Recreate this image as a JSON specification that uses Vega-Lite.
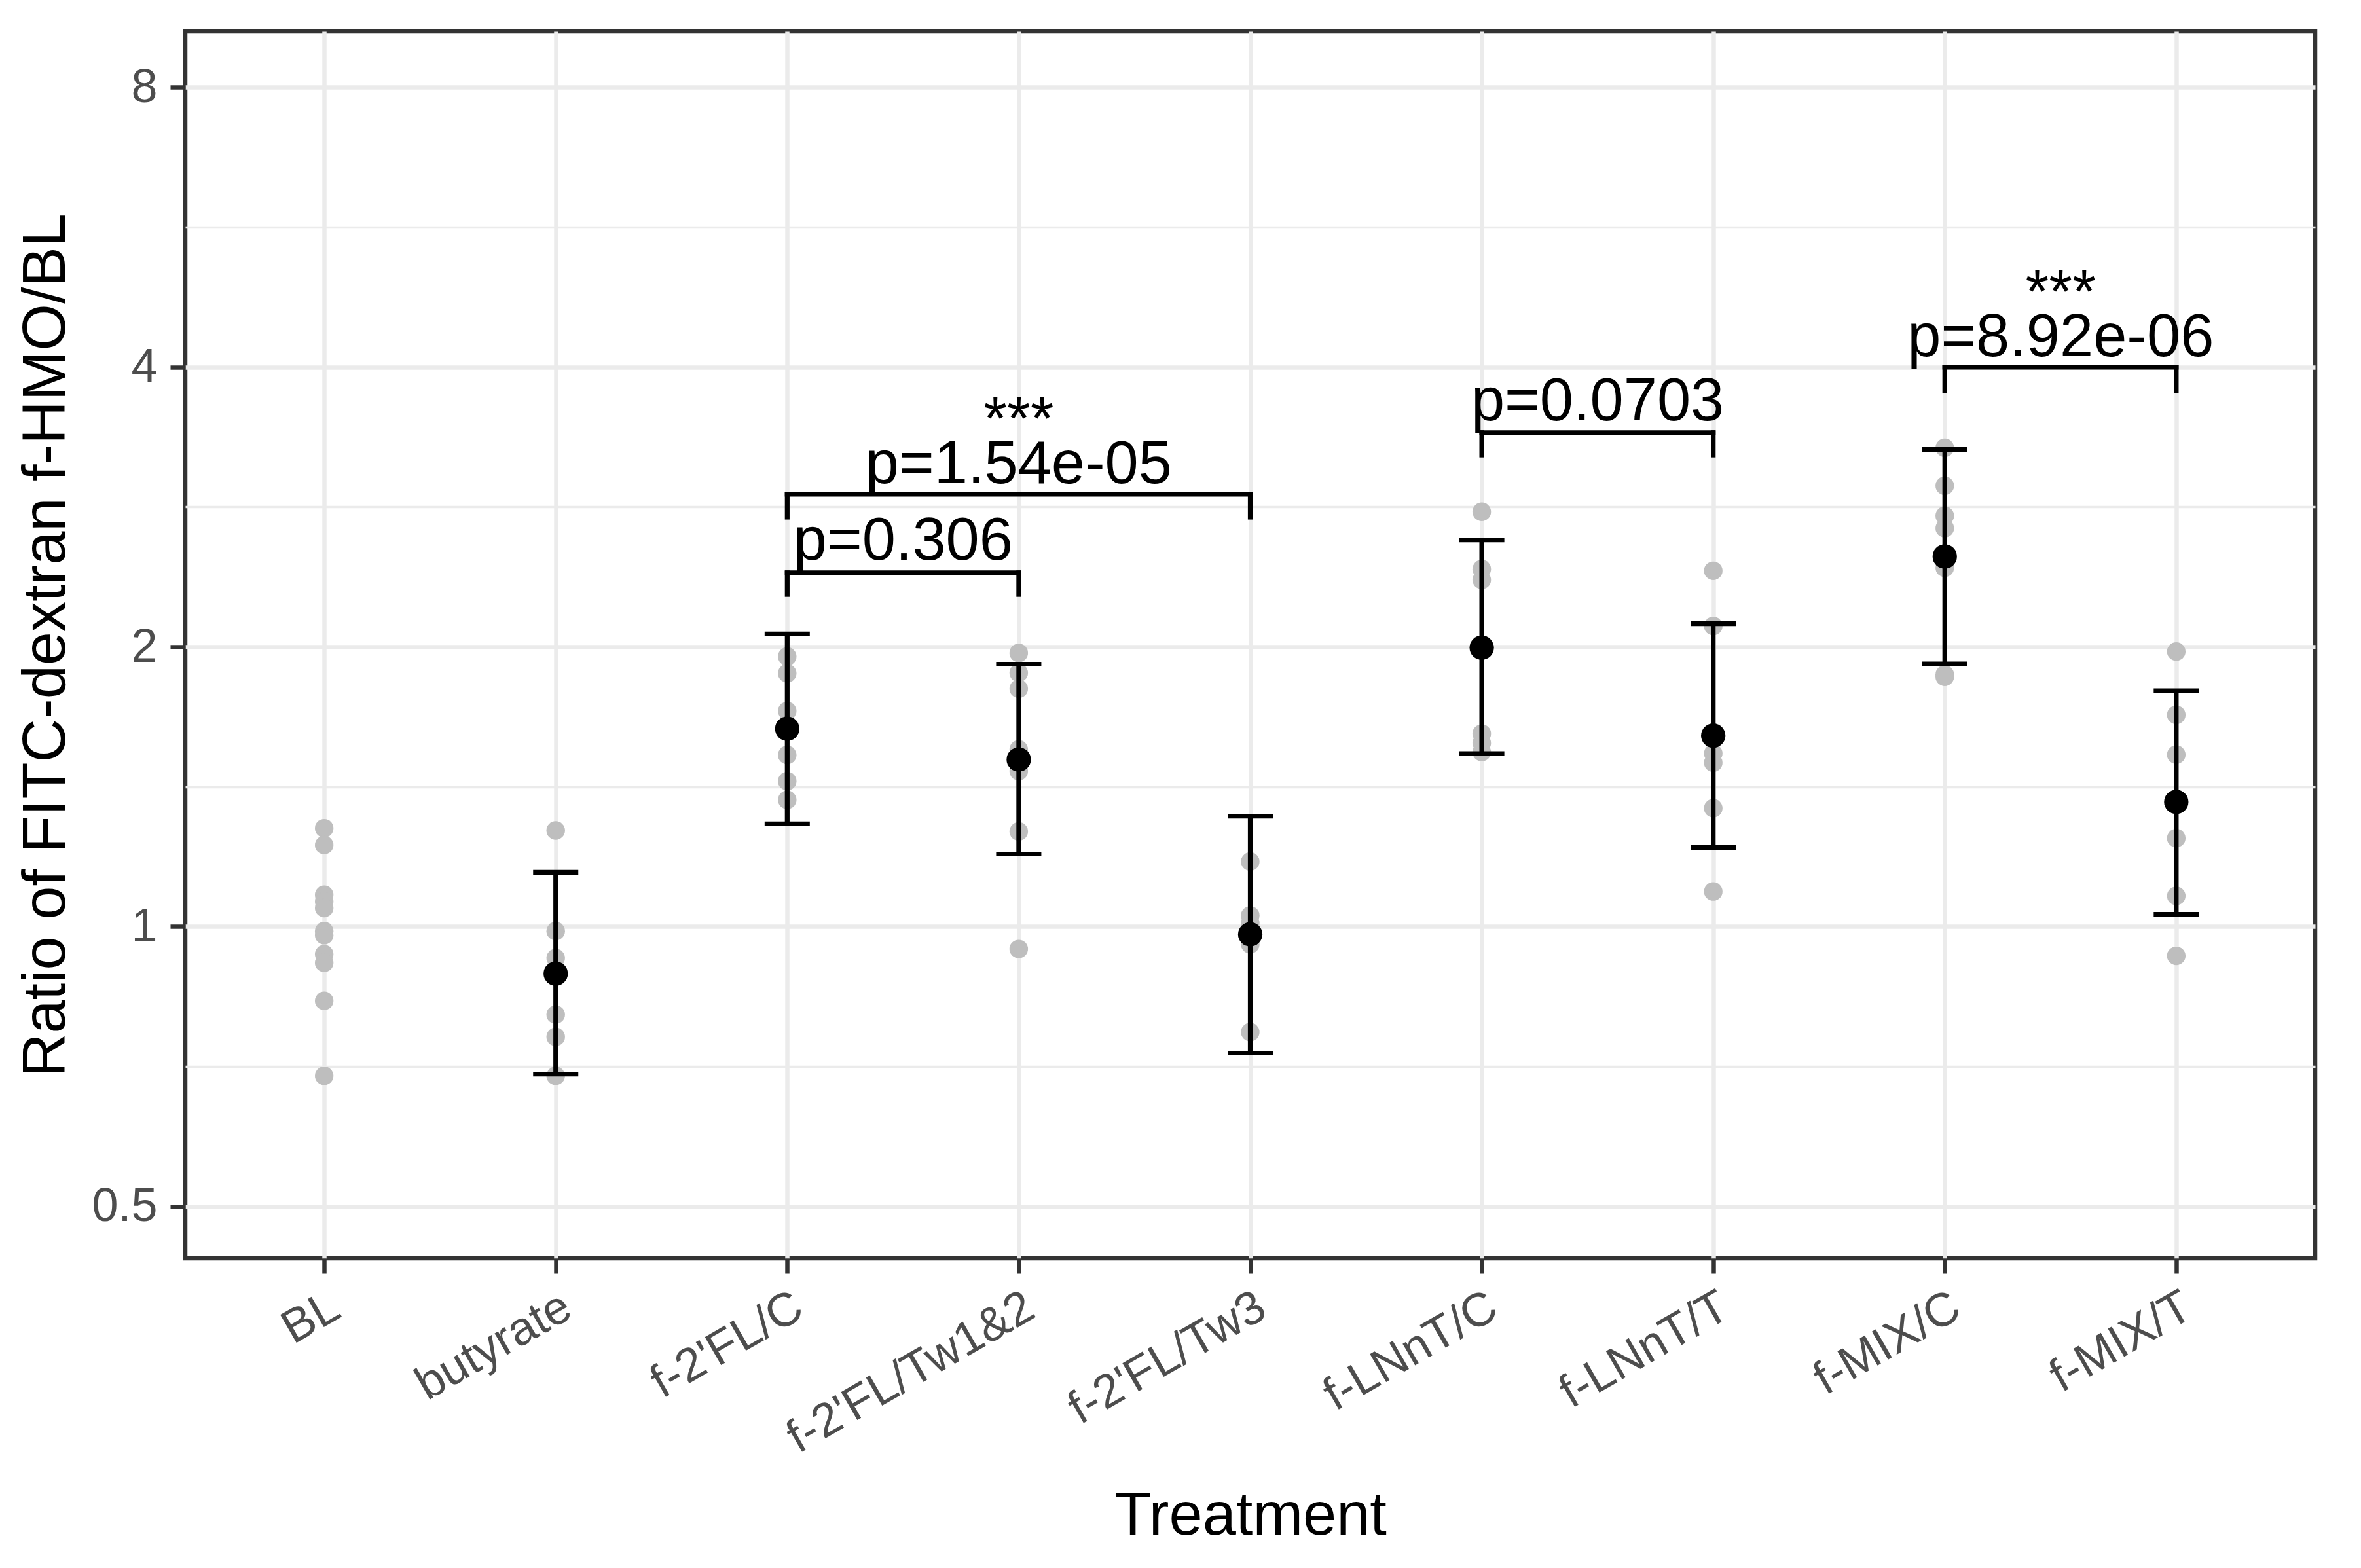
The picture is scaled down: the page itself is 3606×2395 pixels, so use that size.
{
  "$schema": "https://vega.github.io/schema/vega-lite/v6.json",
  "width": 3253,
  "height": 1874,
  "autosize": {"type": "none"},
  "padding": {"left": 283, "top": 48, "right": 70, "bottom": 473},
  "background": "white",
  "config": {
    "font": "Liberation Sans",
    "view": {"stroke": "#333333", "strokeWidth": 6.5},
    "axis": {
      "labelFont": "Liberation Sans",
      "titleFont": "Liberation Sans",
      "labelColor": "#4D4D4D",
      "titleColor": "#000000",
      "labelFontSize": 72,
      "titleFontSize": 92,
      "titleFontWeight": "normal",
      "tickColor": "#333333",
      "tickSize": 23,
      "tickWidth": 6.5,
      "domain": false,
      "gridColor": "#EBEBEB",
      "labelOverlap": false,
      "labelLimit": 0
    }
  },
  "datasets": {
    "points": [
      {"Treatment": "BL", "ratio": 1.276}, {"Treatment": "BL", "ratio": 1.224}, {"Treatment": "BL", "ratio": 1.082},
      {"Treatment": "BL", "ratio": 1.064}, {"Treatment": "BL", "ratio": 1.047}, {"Treatment": "BL", "ratio": 0.989},
      {"Treatment": "BL", "ratio": 0.979}, {"Treatment": "BL", "ratio": 0.934}, {"Treatment": "BL", "ratio": 0.914},
      {"Treatment": "BL", "ratio": 0.832}, {"Treatment": "BL", "ratio": 0.691},
      {"Treatment": "butyrate", "ratio": 1.269}, {"Treatment": "butyrate", "ratio": 0.989}, {"Treatment": "butyrate", "ratio": 0.925},
      {"Treatment": "butyrate", "ratio": 0.804}, {"Treatment": "butyrate", "ratio": 0.761}, {"Treatment": "butyrate", "ratio": 0.691},
      {"Treatment": "f-2'FL/C", "ratio": 1.953}, {"Treatment": "f-2'FL/C", "ratio": 1.873}, {"Treatment": "f-2'FL/C", "ratio": 1.706},
      {"Treatment": "f-2'FL/C", "ratio": 1.634}, {"Treatment": "f-2'FL/C", "ratio": 1.530}, {"Treatment": "f-2'FL/C", "ratio": 1.434},
      {"Treatment": "f-2'FL/C", "ratio": 1.369},
      {"Treatment": "f-2'FL/Tw1&2", "ratio": 1.970}, {"Treatment": "f-2'FL/Tw1&2", "ratio": 1.875}, {"Treatment": "f-2'FL/Tw1&2", "ratio": 1.803},
      {"Treatment": "f-2'FL/Tw1&2", "ratio": 1.551}, {"Treatment": "f-2'FL/Tw1&2", "ratio": 1.470}, {"Treatment": "f-2'FL/Tw1&2", "ratio": 1.266},
      {"Treatment": "f-2'FL/Tw1&2", "ratio": 0.946},
      {"Treatment": "f-2'FL/Tw3", "ratio": 1.175}, {"Treatment": "f-2'FL/Tw3", "ratio": 1.028}, {"Treatment": "f-2'FL/Tw3", "ratio": 1.009},
      {"Treatment": "f-2'FL/Tw3", "ratio": 0.957}, {"Treatment": "f-2'FL/Tw3", "ratio": 0.770},
      {"Treatment": "f-LNnT/C", "ratio": 2.795}, {"Treatment": "f-LNnT/C", "ratio": 2.425}, {"Treatment": "f-LNnT/C", "ratio": 2.361},
      {"Treatment": "f-LNnT/C", "ratio": 1.613}, {"Treatment": "f-LNnT/C", "ratio": 1.576}, {"Treatment": "f-LNnT/C", "ratio": 1.541},
      {"Treatment": "f-LNnT/T", "ratio": 2.415}, {"Treatment": "f-LNnT/T", "ratio": 2.106}, {"Treatment": "f-LNnT/T", "ratio": 1.536},
      {"Treatment": "f-LNnT/T", "ratio": 1.501}, {"Treatment": "f-LNnT/T", "ratio": 1.341}, {"Treatment": "f-LNnT/T", "ratio": 1.091},
      {"Treatment": "f-MIX/C", "ratio": 3.275}, {"Treatment": "f-MIX/C", "ratio": 2.981}, {"Treatment": "f-MIX/C", "ratio": 2.768},
      {"Treatment": "f-MIX/C", "ratio": 2.684}, {"Treatment": "f-MIX/C", "ratio": 2.500}, {"Treatment": "f-MIX/C", "ratio": 2.433},
      {"Treatment": "f-MIX/C", "ratio": 1.868}, {"Treatment": "f-MIX/C", "ratio": 1.857},
      {"Treatment": "f-MIX/T", "ratio": 1.977}, {"Treatment": "f-MIX/T", "ratio": 1.690}, {"Treatment": "f-MIX/T", "ratio": 1.531},
      {"Treatment": "f-MIX/T", "ratio": 1.245}, {"Treatment": "f-MIX/T", "ratio": 1.079}, {"Treatment": "f-MIX/T", "ratio": 0.930}
    ],
    "summary": [
      {"Treatment": "butyrate", "mean": 0.890, "lo": 0.694, "hi": 1.144},
      {"Treatment": "f-2'FL/C", "mean": 1.633, "lo": 1.290, "hi": 2.065},
      {"Treatment": "f-2'FL/Tw1&2", "mean": 1.513, "lo": 1.197, "hi": 1.916},
      {"Treatment": "f-2'FL/Tw3", "mean": 0.981, "lo": 0.731, "hi": 1.315},
      {"Treatment": "f-LNnT/C", "mean": 1.996, "lo": 1.535, "hi": 2.607},
      {"Treatment": "f-LNnT/T", "mean": 1.605, "lo": 1.217, "hi": 2.118},
      {"Treatment": "f-MIX/C", "mean": 2.502, "lo": 1.917, "hi": 3.263},
      {"Treatment": "f-MIX/T", "mean": 1.362, "lo": 1.031, "hi": 1.794}
    ],
    "brackets": [
      {"x1": "f-2'FL/C", "x2": "f-2'FL/Tw1&2", "y": 2.403, "tip": 2.277},
      {"x1": "f-2'FL/C", "x2": "f-2'FL/Tw3", "y": 2.919, "tip": 2.758},
      {"x1": "f-LNnT/C", "x2": "f-LNnT/T", "y": 3.401, "tip": 3.217},
      {"x1": "f-MIX/C", "x2": "f-MIX/T", "y": 3.999, "tip": 3.772}
    ],
    "labels_adjacent": [
      {"Treatment": "f-2'FL/C", "y": 2.482, "label": "p=0.306"},
      {"Treatment": "f-LNnT/C", "y": 3.507, "label": "p=0.0703"},
      {"Treatment": "f-MIX/C", "y": 4.113, "label": "p=8.92e-06"},
      {"Treatment": "f-MIX/C", "y": 4.585, "label": "***"}
    ],
    "labels_centred": [
      {"Treatment": "f-2'FL/Tw1&2", "y": 2.999, "label": "p=1.54e-05"},
      {"Treatment": "f-2'FL/Tw1&2", "y": 3.345, "label": "***"}
    ]
  },
  "layer": [
    {
      "data": {"name": "points"},
      "mark": {"type": "circle", "color": "#BEBEBE", "size": 804, "opacity": 1},
      "encoding": {
        "x": {
          "field": "Treatment",
          "type": "nominal",
          "scale": {
            "type": "point",
            "padding": 0.6,
            "domain": ["BL", "butyrate", "f-2'FL/C", "f-2'FL/Tw1&2", "f-2'FL/Tw3", "f-LNnT/C", "f-LNnT/T", "f-MIX/C", "f-MIX/T"]
          },
          "axis": {
            "title": "Treatment",
            "labelAngle": -30,
            "labelAlign": "right",
            "labelBaseline": "top",
            "labelPadding": 15,
            "labelLimit": 0,
            "grid": true,
            "gridWidth": 6.5,
            "titleX": 1626.5,
            "titleY": 421,
            "titleAlign": "center",
            "titleBaseline": "alphabetic"
          }
        },
        "y": {
          "field": "ratio",
          "type": "quantitative",
          "scale": {"type": "log", "base": 2, "domain": [0.4396, 9.19], "nice": false},
          "axis": {
            "title": "Ratio of FITC-dextran f-HMO/BL",
            "values": [0.5, 0.7071, 1, 1.4142, 2, 2.8284, 4, 5.6569, 8],
            "labelExpr": "datum.value == 0.5 ? '0.5' : ((datum.value == 1 || datum.value == 2 || datum.value == 4 || datum.value == 8) ? format(datum.value, 'd') : '')",
            "labelPadding": 20,
            "labelBaseline": "middle",
            "grid": true,
            "gridWidth": {"condition": {"test": "datum.value == 0.5 || datum.value == 1 || datum.value == 2 || datum.value == 4 || datum.value == 8", "value": 6.5}, "value": 3.3},
            "tickOpacity": {"condition": {"test": "datum.value == 0.5 || datum.value == 1 || datum.value == 2 || datum.value == 4 || datum.value == 8", "value": 1}, "value": 0},
            "titleX": -185,
            "titleY": 937,
            "titleAlign": "center",
            "titleBaseline": "alphabetic"
          }
        }
      }
    },
    {
      "mark": {"type": "rule", "color": "#000000", "strokeWidth": 7.2},
      "encoding": {"y": {"datum": 1}}
    },
    {
      "data": {"name": "summary"},
      "mark": {"type": "rule", "color": "#000000", "strokeWidth": 7.2},
      "encoding": {
        "x": {"field": "Treatment", "type": "nominal"},
        "y": {"field": "lo", "type": "quantitative"},
        "y2": {"field": "hi"}
      }
    },
    {
      "data": {"name": "summary"},
      "mark": {"type": "tick", "orient": "horizontal", "color": "#000000", "size": 69, "thickness": 7.2, "opacity": 1},
      "encoding": {
        "x": {"field": "Treatment", "type": "nominal"},
        "y": {"field": "lo", "type": "quantitative"}
      }
    },
    {
      "data": {"name": "summary"},
      "mark": {"type": "tick", "orient": "horizontal", "color": "#000000", "size": 69, "thickness": 7.2, "opacity": 1},
      "encoding": {
        "x": {"field": "Treatment", "type": "nominal"},
        "y": {"field": "hi", "type": "quantitative"}
      }
    },
    {
      "data": {"name": "summary"},
      "mark": {"type": "circle", "color": "#000000", "size": 1385, "opacity": 1},
      "encoding": {
        "x": {"field": "Treatment", "type": "nominal"},
        "y": {"field": "mean", "type": "quantitative"}
      }
    },
    {
      "data": {"name": "brackets"},
      "mark": {"type": "rule", "color": "#000000", "strokeWidth": 7.2, "strokeCap": "square"},
      "encoding": {
        "x": {"field": "x1", "type": "nominal"},
        "x2": {"field": "x2"},
        "y": {"field": "y", "type": "quantitative"}
      }
    },
    {
      "data": {"name": "brackets"},
      "mark": {"type": "rule", "color": "#000000", "strokeWidth": 7.2, "strokeCap": "square"},
      "encoding": {
        "x": {"field": "x1", "type": "nominal"},
        "y": {"field": "y", "type": "quantitative"},
        "y2": {"field": "tip"}
      }
    },
    {
      "data": {"name": "brackets"},
      "mark": {"type": "rule", "color": "#000000", "strokeWidth": 7.2, "strokeCap": "square"},
      "encoding": {
        "x": {"field": "x2", "type": "nominal"},
        "y": {"field": "y", "type": "quantitative"},
        "y2": {"field": "tip"}
      }
    },
    {
      "data": {"name": "labels_adjacent"},
      "mark": {"type": "text", "font": "Liberation Sans", "fontSize": 92, "color": "#000000", "align": "center", "baseline": "alphabetic", "dx": 177},
      "encoding": {
        "x": {"field": "Treatment", "type": "nominal"},
        "y": {"field": "y", "type": "quantitative"},
        "text": {"field": "label", "type": "nominal"}
      }
    },
    {
      "data": {"name": "labels_centred"},
      "mark": {"type": "text", "font": "Liberation Sans", "fontSize": 92, "color": "#000000", "align": "center", "baseline": "alphabetic"},
      "encoding": {
        "x": {"field": "Treatment", "type": "nominal"},
        "y": {"field": "y", "type": "quantitative"},
        "text": {"field": "label", "type": "nominal"}
      }
    }
  ]
}
